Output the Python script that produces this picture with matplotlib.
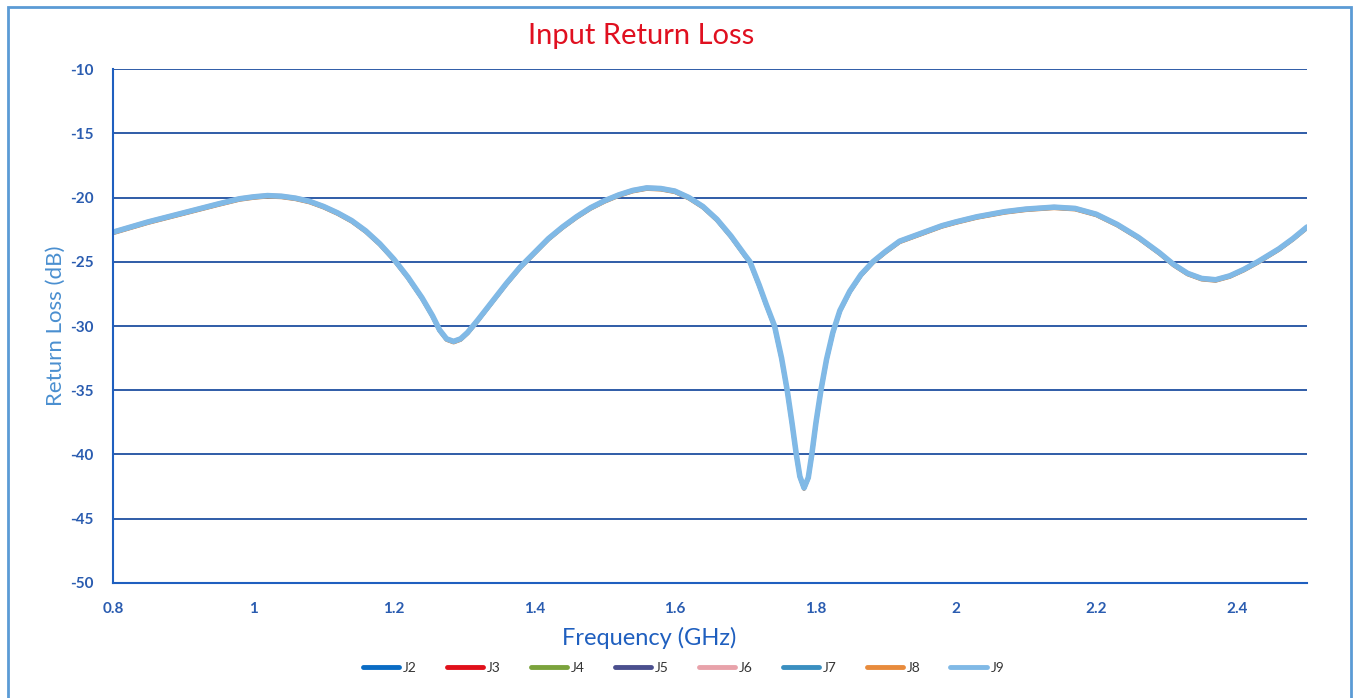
import numpy as np
import matplotlib.pyplot as plt
from matplotlib.patches import Rectangle

# frequency points (GHz) and return loss (dB)
freq = [0.80, 0.85, 0.90, 0.95, 0.98, 1.00, 1.02, 1.04, 1.06, 1.08, 1.10,
        1.12, 1.14, 1.16, 1.18, 1.20, 1.22, 1.24, 1.255, 1.265, 1.275,
        1.285, 1.295, 1.305, 1.32, 1.34, 1.36, 1.38, 1.40, 1.42, 1.44,
        1.46, 1.48, 1.50, 1.52, 1.54, 1.56, 1.58, 1.60, 1.62, 1.64,
        1.66, 1.68, 1.70, 1.707, 1.72, 1.73, 1.742, 1.752, 1.760, 1.767,
        1.773, 1.778, 1.784, 1.790, 1.795, 1.801, 1.808, 1.816, 1.825, 1.835,
        1.849, 1.865, 1.882, 1.90, 1.92, 1.95, 1.98, 2.00, 2.03, 2.07,
        2.10, 2.14, 2.17, 2.20, 2.23, 2.26, 2.29, 2.31, 2.33, 2.35,
        2.37, 2.39, 2.41, 2.43, 2.46, 2.48, 2.50]
rl_base = [-22.7, -21.9, -21.2, -20.5, -20.1, -19.95, -19.85, -19.9, -20.05, -20.3, -20.7,
           -21.2, -21.8, -22.6, -23.6, -24.8, -26.2, -27.8, -29.2, -30.3, -31.0,
           -31.2, -31.0, -30.5, -29.5, -28.1, -26.7, -25.4, -24.3, -23.2, -22.3,
           -21.5, -20.8, -20.25, -19.8, -19.45, -19.25, -19.3, -19.5, -20.0, -20.7,
           -21.7, -23.0, -24.5, -25.0, -26.8, -28.3, -30.0, -32.5, -35.0, -37.6,
           -40.0, -41.7, -42.6, -41.8, -40.0, -37.5, -35.0, -32.6, -30.5, -28.8,
           -27.3, -26.0, -25.0, -24.2, -23.4, -22.8, -22.2, -21.9, -21.5, -21.1,
           -20.9, -20.75, -20.85, -21.3, -22.1, -23.1, -24.3, -25.2, -25.9, -26.3,
           -26.4, -26.1, -25.6, -25.0, -24.0, -23.2, -22.3]

series = ['J2', 'J3', 'J4', 'J5', 'J6', 'J7', 'J8', 'J9']
offsets = [-0.06, -0.03, 0.03, -0.08, 0.05, -0.04, -0.10, 0.0]
colors = ['#0a6cc4', '#e0101a', '#7ba33c', '#4b4f8e', '#e8a2aa', '#3a8fc0', '#e88b3c', '#80b9e6']
widths = [2.0, 2.0, 2.0, 2.0, 2.5, 3.0, 2.5, 4.0]

plt.rcParams['font.family'] = ['Lato', 'DejaVu Sans']
plt.rcParams['axes.unicode_minus'] = False

fig = plt.figure(figsize=(13.59, 6.98), dpi=100)
fig.patches.append(Rectangle((0.006, -0.01), 0.988, 1.0, transform=fig.transFigure,
                             fill=False, edgecolor='#5b9bd5', linewidth=2))
ax = fig.add_axes([0.0831, 0.1648, 0.8786, 0.7363])

f = np.array(freq)
base = np.array(rl_base)
for name, off, c, w in zip(series, offsets, colors, widths):
    ax.plot(f, base + off, color=c, lw=w, label=name,
            solid_capstyle='round', solid_joinstyle='round')

ax.set_xlim(0.8, 2.5)
ax.set_ylim(-50, -10)
ax.set_yticks(np.arange(-50, -9, 5))
ax.set_xticks([0.8, 1.0, 1.2, 1.4, 1.6, 1.8, 2.0, 2.2, 2.4])
ax.set_xticklabels(['0.8', '1', '1.2', '1.4', '1.6', '1.8', '2', '2.2', '2.4'])
ax.grid(axis='y', color='#1f4fa0', lw=1.3)
ax.set_axisbelow(True)
for s in ['top', 'right']:
    ax.spines[s].set_visible(False)
for s in ['left', 'bottom']:
    ax.spines[s].set_color('#1f5fbf')
    ax.spines[s].set_linewidth(1.5)
ax.tick_params(length=0, labelsize=11, labelcolor='#2a5cb0', pad=14)
for t in ax.get_xticklabels() + ax.get_yticklabels():
    t.set_fontweight('bold')

fig.text(0.472, 0.949, 'Input Return Loss', color='#e01020', fontsize=21,
         ha='center', va='center')
ax.set_xlabel('Frequency (GHz)', color='#1f5fbf', fontsize=17)
ax.xaxis.set_label_coords(0.449, -0.085)
ax.set_ylabel('Return Loss (dB)', color='#4a8fd0', fontsize=16, labelpad=3)

leg = fig.legend(loc='center', bbox_to_anchor=(0.503, 0.043), ncol=8, frameon=False,
                 fontsize=10, handlelength=2.6, columnspacing=2.15, handletextpad=0.3,
                 labelcolor='#333333')
for line in leg.get_lines():
    line.set_linewidth(3.5)

fig.savefig('out.png', dpi=100)
